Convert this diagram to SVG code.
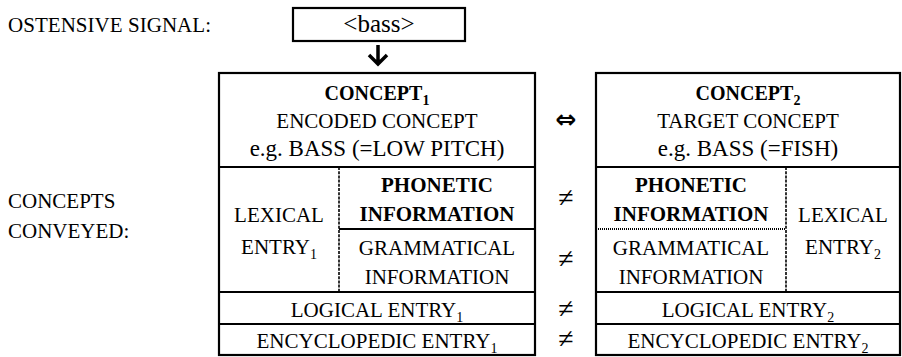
<svg xmlns="http://www.w3.org/2000/svg" width="902" height="357" viewBox="0 0 902 357">
<style>
text{font-family:"Liberation Serif","Times New Roman",serif;font-size:21px;fill:#000}
.c{text-anchor:middle}
.b{font-weight:bold}
.eg{font-size:23px}
.sub{font-size:14px}
.box{fill:#fff;stroke:#000;stroke-width:2.2}
.ln{stroke:#000;stroke-width:2.2;fill:none}
.dash{stroke:#000;stroke-width:1.6;stroke-dasharray:3 1.2;fill:none}
.dot{stroke:#000;stroke-width:2;stroke-dasharray:1 1;fill:none}
.ne{text-anchor:middle;font-size:28px}
</style>
<rect width="902" height="357" fill="#fff"/>

<g id="label-signal">
<text x="8" y="32" textLength="203" lengthAdjust="spacing">OSTENSIVE SIGNAL:</text>
</g>
<g id="label-concepts">
<text x="8" y="208">CONCEPTS</text>
<text x="8" y="238">CONVEYED:</text>
</g>

<g id="node-signal">
<rect class="box" x="293" y="8" width="172" height="33"/>
<text class="c" x="379" y="32" style="font-size:25px">&lt;bass&gt;</text>
</g>

<g id="node-concept1">
<rect class="box" x="219" y="73" width="316" height="282"/>
<line class="ln" x1="219" y1="167" x2="535" y2="167"/>
<line class="ln" x1="339" y1="229" x2="535" y2="229"/>
<line class="dash" x1="339" y1="167" x2="339" y2="292"/>
<line class="ln" x1="219" y1="292" x2="535" y2="292"/>
<line class="ln" x1="219" y1="324" x2="535" y2="324"/>
<text class="c b" x="377" y="100" style="font-size:20px">CONCEPT<tspan class="sub" dy="5">1</tspan></text>
<text class="c" x="377" y="128">ENCODED CONCEPT</text>
<text class="c eg" x="377" y="156">e.g. BASS (=LOW PITCH)</text>
<text class="c" x="279" y="222">LEXICAL</text>
<text class="c" x="279" y="254">ENTRY<tspan class="sub" dy="5">1</tspan></text>
<text class="c b" x="437" y="192">PHONETIC</text>
<text class="c b" x="437" y="221">INFORMATION</text>
<text class="c" x="437" y="255">GRAMMATICAL</text>
<text class="c" x="437" y="284">INFORMATION</text>
<text class="c" x="377" y="317">LOGICAL ENTRY<tspan class="sub" dy="5">1</tspan></text>
<text class="c" x="377" y="348">ENCYCLOPEDIC ENTRY<tspan class="sub" dy="5">1</tspan></text>
</g>

<g id="node-concept2">
<rect class="box" x="596" y="73" width="304" height="282"/>
<line class="ln" x1="596" y1="167" x2="900" y2="167"/>
<line class="dot" x1="596" y1="229" x2="786" y2="229"/>
<line class="dash" x1="786" y1="167" x2="786" y2="292"/>
<line class="ln" x1="596" y1="292" x2="900" y2="292"/>
<line class="ln" x1="596" y1="324" x2="900" y2="324"/>
<text class="c b" x="748" y="100" style="font-size:20px">CONCEPT<tspan class="sub" dy="5">2</tspan></text>
<text class="c" x="748" y="128">TARGET CONCEPT</text>
<text class="c eg" x="748" y="156">e.g. BASS (=FISH)</text>
<text class="c b" x="691" y="192">PHONETIC</text>
<text class="c b" x="691" y="221">INFORMATION</text>
<text class="c" x="691" y="255">GRAMMATICAL</text>
<text class="c" x="691" y="284">INFORMATION</text>
<text class="c" x="843" y="222">LEXICAL</text>
<text class="c" x="843" y="254">ENTRY<tspan class="sub" dy="5">2</tspan></text>
<text class="c" x="748" y="317">LOGICAL ENTRY<tspan class="sub" dy="5">2</tspan></text>
<text class="c" x="748" y="348">ENCYCLOPEDIC ENTRY<tspan class="sub" dy="5">2</tspan></text>
</g>

<g id="connectors">
<path d="M378 45 V64 M369 55 L378 64 L387 55" fill="none" stroke="#000" stroke-width="3.5"/>
<text x="566" y="128" style="font-family:'DejaVu Sans',sans-serif;font-size:25px;font-weight:bold;text-anchor:middle">⇔</text>
<text class="ne" x="566" y="207">≠</text>
<text class="ne" x="566" y="268">≠</text>
<text class="ne" x="566" y="318">≠</text>
<text class="ne" x="566" y="348">≠</text>
</g>
</svg>
